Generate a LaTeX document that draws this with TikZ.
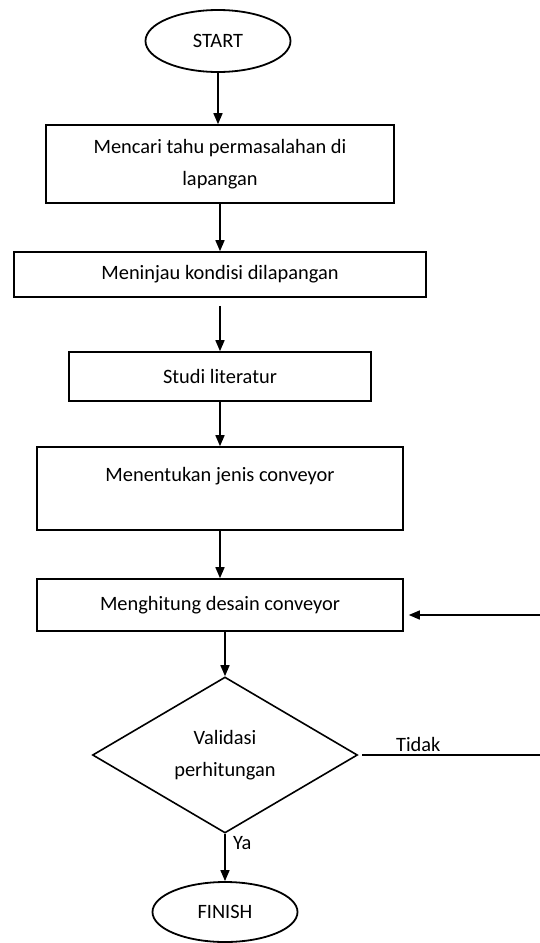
\documentclass[tikz,border=0pt]{standalone}
\usepackage{fontspec}
\setmainfont{Carlito}
\usetikzlibrary{shapes.geometric,arrows.meta,positioning}

\begin{document}
\begin{tikzpicture}[x=1pt,y=-1pt,font=\fontsize{20.4}{32}\selectfont,
	>={Triangle[width=9pt,length=11pt]},
	terminal/.style={draw,ellipse,line width=1.8pt,minimum width=145pt,inner sep=0pt},
	process/.style={draw,rectangle,line width=1.6pt,inner sep=0pt,align=center},
	decision/.style={draw,diamond,line width=1.6pt,minimum width=265pt,minimum height=156pt,inner sep=0pt,align=center},
	flow/.style={->,line width=1.5pt}]

\useasboundingbox (0,0) rectangle (540,943);

%----------------------------
% Start and the steps
%----------------------------
\node[terminal,minimum height=62pt] (start) at (218,41) {START};

\node[process,minimum width=348pt,minimum height=78pt] (search) at (220,164)
	{Mencari tahu permasalahan di\\lapangan};
\node[process,minimum width=412pt,minimum height=45pt] (survey) at (220,274.5)
	{Meninjau kondisi dilapangan};
\node[process,minimum width=302pt,minimum height=49pt] (study) at (220,376.5)
	{Studi literatur};
% text sits high in this box
\node[process,minimum width=366pt,text height=34pt,text depth=49pt] (choose) at (220,488.5)
	{Menentukan jenis conveyor};
\node[process,minimum width=366pt,minimum height=52pt] (compute) at (220,605)
	{Menghitung desain conveyor};

%----------------------------
% Check and finish
%----------------------------
\node[decision] (check) at (225,755) {Validasi\\perhitungan};
\node[terminal,minimum height=60pt] (finish) at (225,912) {FINISH};

% loop back leaves the picture on the right
\coordinate (loopout) at (540,755);
\coordinate (loopin) at (540,615);

%----------------------------
% Arrows
%----------------------------
\draw[flow] (start.south) -- (start.south |- search.north);
\draw[flow] (search) -- (survey);
\draw[flow,shorten <=8pt] (survey) -- (study);
\draw[flow] (study) -- (choose);
\draw[flow] (choose) -- (compute);
\draw[flow] (check.north |- compute.south) -- (check);
\draw[flow] (check.south) -- (check.south |- finish.north)
	node[pos=0.2,right=4pt] {Ya};

\draw[line width=1.5pt,shorten <=4pt] (check.east) -- (loopout)
	node[pos=0.33,above=3pt,inner sep=0pt] {Tidak};
\draw[flow,shorten >=5pt] (loopin) -- (compute.east |- loopin);

\end{tikzpicture}
\end{document}
